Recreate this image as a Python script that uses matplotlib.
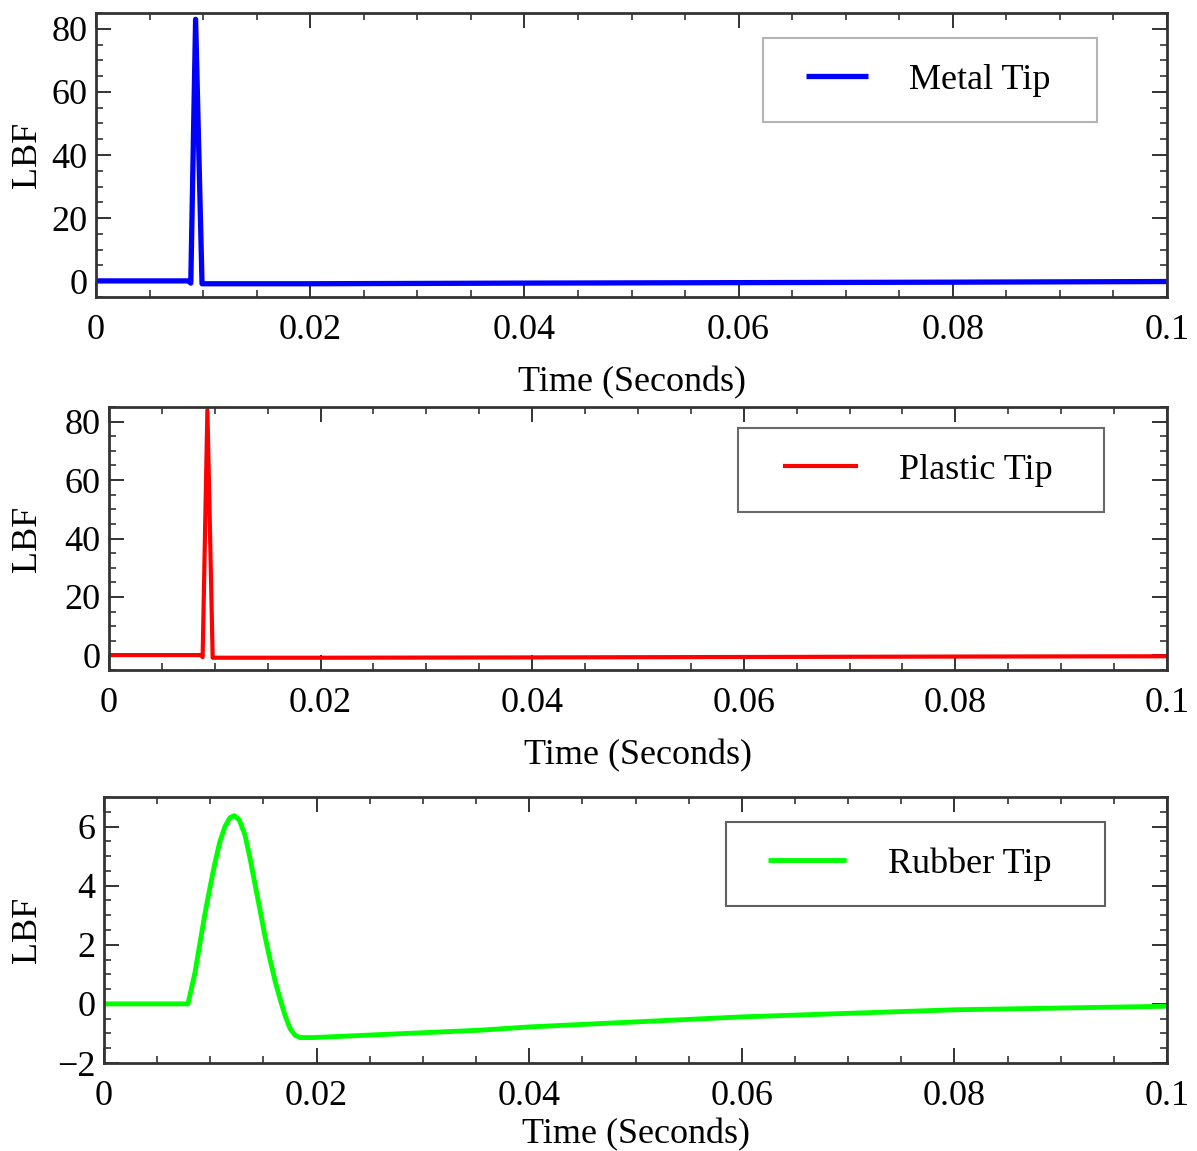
import matplotlib
matplotlib.use("Agg")
import matplotlib.pyplot as plt
from matplotlib.ticker import MultipleLocator
from matplotlib.patches import Rectangle

plt.rcParams['font.family'] = ['Liberation Serif', 'DejaVu Serif']

# ---- data ----
metal_t = [0.0, 0.0087, 0.00885, 0.0093, 0.0099, 0.02, 0.04, 0.06, 0.08, 0.1]
metal_v = [0.1, 0.1, -0.6, 83.0, -0.8, -0.8, -0.6, -0.45, -0.3, -0.1]

plastic_t = [0.0, 0.0087, 0.00885, 0.0093, 0.0098, 0.02, 0.04, 0.06, 0.08, 0.1]
plastic_v = [0.1, 0.1, -0.6, 84.0, -0.8, -0.8, -0.7, -0.55, -0.4, -0.3]

rubber_t = [0.0, 0.0079, 0.00856, 0.00903, 0.0095, 0.00997, 0.01044, 0.01091,
            0.01138, 0.01185, 0.01226, 0.01273, 0.01326, 0.01373, 0.0142,
            0.01468, 0.01515, 0.01562, 0.01609, 0.01656, 0.01703, 0.0175,
            0.01797, 0.01844, 0.01966, 0.0354, 0.04, 0.06, 0.08, 0.1]
rubber_v = [0.0, 0.0, 1.06, 2.06, 3.06, 3.94, 4.78, 5.5,
            6.0, 6.3, 6.37, 6.22, 5.72, 4.94, 4.06,
            3.17, 2.28, 1.5, 0.78, 0.17, -0.39, -0.83,
            -1.06, -1.14, -1.14, -0.89, -0.78, -0.44, -0.2, -0.08]

series = [
    ("Metal Tip", metal_t, metal_v, "#0000ff", 3.8),
    ("Plastic Tip", plastic_t, plastic_v, "#ff0000", 3.0),
    ("Rubber Tip", rubber_t, rubber_v, "#00ff00", 3.5),
]
xticks = [0, 0.02, 0.04, 0.06, 0.08, 0.1]
xticklabels = ["0", "0.02", "0.04", "0.06", "0.08", "0.1"]
ylims = [(-5, 85), (-5, 85), (-2, 7)]
ymajor = [20, 20, 2]
yminor = [5, 5, 0.5]

W, H = 1197, 1151
fig = plt.figure(figsize=(W / 100, H / 100), dpi=100)

# axes boxes in pixels: left, right, top, bottom
boxes = [(96, 1167, 13, 297), (109, 1167, 407, 670), (104, 1167, 797, 1063)]
# legend frame boxes in pixels: left, right, top, bottom ; handle start, handle end, text start
leg_boxes = [(763, 1097, 38, 122), (738, 1104, 428, 512), (726, 1105, 822, 906)]
leg_handles = [(806, 868, 909), (783, 858, 899), (768, 846, 888)]
legend_edge = ["#b4b4b4", "#6a6a6a", "#606060"]
xlabel_pads = [14, 14, 4]
FS = 26
em = FS * 100 / 72.0

for i, (name, t, v, col, lw) in enumerate(series):
    l, r, tp, b = boxes[i]
    ax = fig.add_axes([l / W, 1 - b / H, (r - l) / W, (b - tp) / H])
    ax.plot(t, v, color=col, lw=lw, label=name, solid_joinstyle='round',
            solid_capstyle='butt')
    ax.set_xlim(0, 0.1)
    ax.set_ylim(*ylims[i])
    ax.set_xticks(xticks)
    ax.set_xticklabels(xticklabels)
    ax.xaxis.set_minor_locator(MultipleLocator(0.005))
    ax.yaxis.set_major_locator(MultipleLocator(ymajor[i]))
    ax.yaxis.set_minor_locator(MultipleLocator(yminor[i]))
    if i == 2:
        ax.set_yticks([-2, 0, 2, 4, 6])
        ax.set_yticklabels(["\u22122", "0", "2", "4", "6"])
    ax.tick_params(which='both', direction='in', top=True, right=True,
                   color='#333333', labelsize=FS)
    ax.tick_params(which='major', length=11, width=1.4)
    ax.tick_params(which='minor', length=5, width=1.2)
    ax.tick_params(axis='x', which='major', pad=12)
    ax.tick_params(axis='y', which='major', pad=6)
    for s in ax.spines.values():
        s.set_color('#333333')
        s.set_linewidth(2.0)
    ax.set_xlabel("Time (Seconds)", fontsize=FS, labelpad=xlabel_pads[i])
    ax.set_ylabel("LBF", fontsize=FS)
    ax.yaxis.set_label_coords(-(l - 44) / (r - l), 0.5)

    # legend frame
    bl, br, bt, bb = leg_boxes[i]
    ax.add_patch(Rectangle((bl / W, 1 - bb / H), (br - bl) / W, (bb - bt) / H,
                           transform=fig.transFigure, facecolor='white',
                           edgecolor=legend_edge[i], lw=1.5, zorder=5,
                           clip_on=False))
    hs, he, ts = leg_handles[i]
    cy = (bt + bb) / 2.0
    leg = ax.legend(loc='center left',
                    bbox_to_anchor=((hs - l) / (r - l), (b - cy) / (b - tp)),
                    fontsize=FS, frameon=False, handlelength=(he - hs) / em,
                    handletextpad=(ts - he) / em, borderpad=0, borderaxespad=0)
    leg.set_zorder(6)

fig.savefig("out.png", dpi=100)
